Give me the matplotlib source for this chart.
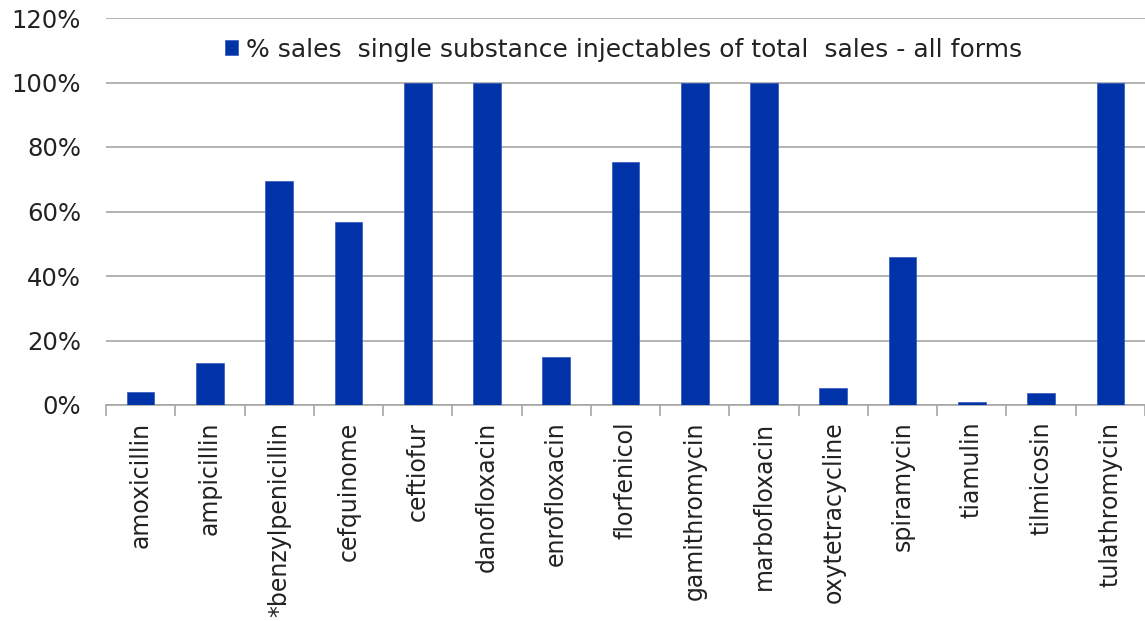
import matplotlib
matplotlib.use("Agg")
import matplotlib.pyplot as plt
from matplotlib.ticker import FuncFormatter, FixedLocator
import numpy as np

categories = ["amoxicillin", "ampicillin", "*benzylpenicillin", "cefquinome", "ceftiofur",
              "danofloxacin", "enrofloxacin", "florfenicol", "gamithromycin", "marbofloxacin",
              "oxytetracycline", "spiramycin", "tiamulin", "tilmicosin", "tulathromycin"]
values = [4.0, 12.9, 69.5, 56.8, 100, 100, 15.0, 75.5, 100, 100, 5.3, 46.0, 0.9, 3.7, 100]
series_name = "% sales  single substance injectables of total  sales - all forms"

plt.rcParams['font.family'] = ['DejaVu Sans']
fig = plt.figure(figsize=(11.45, 6.21), dpi=100)
ax = fig.add_axes([106/1145, 1-405/621, 1-106/1145, (405-18)/621])

x = np.arange(len(categories))
ax.bar(x, values, width=0.4, color='#0033A8', edgecolor='#3355BB', linewidth=0.5,
       label=series_name, zorder=3)

ax.set_ylim(0, 120)
ax.set_xlim(-0.5, len(categories) - 0.5)
ax.set_yticks(np.arange(0, 121, 20))
ax.yaxis.set_major_formatter(FuncFormatter(lambda v, p: f"{int(v)}%"))
ax.tick_params(axis='y', length=0, pad=18, labelsize=17.5, labelcolor='#222222')
ax.grid(axis='y', color='#A6A6A6', linewidth=1.2, zorder=0)

ax.set_xticks(x)
ax.set_xticklabels(categories, rotation=90, fontsize=17, color='#222222', va='top', ha='center')
ax.tick_params(axis='x', which='major', length=0, pad=12)
ax.xaxis.set_minor_locator(FixedLocator(np.arange(-0.5, len(categories), 1.0)))
ax.tick_params(axis='x', which='minor', length=8, color='#A6A6A6', width=1.2)

for s in ['left', 'right', 'top']:
    ax.spines[s].set_visible(False)
ax.spines['bottom'].set_color('#A6A6A6')
ax.spines['bottom'].set_linewidth(1.2)

leg = ax.legend(loc='center', bbox_to_anchor=(0.498, 0.918), frameon=False, fontsize=18,
                handlelength=0.55, handleheight=0.55, handletextpad=0.3)
for t in leg.get_texts():
    t.set_color('#222222')

fig.savefig("out.png", dpi=100)
